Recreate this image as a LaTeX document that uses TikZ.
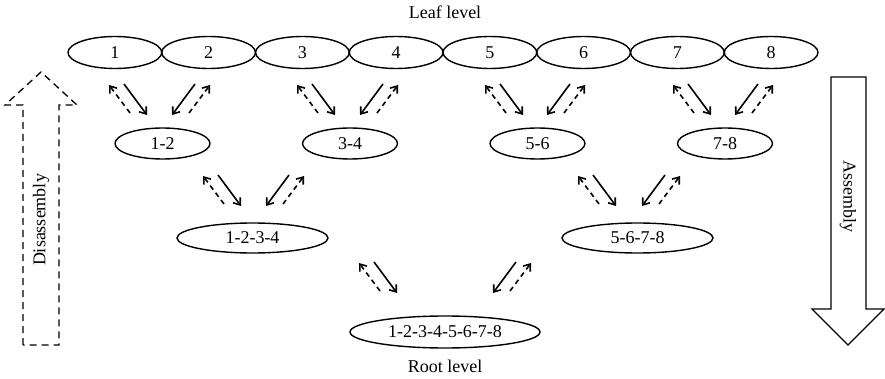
\documentclass[tikz,border=0pt]{standalone}
\usepackage{fontspec}
\setmainfont{Liberation Serif}
\usetikzlibrary{shapes.geometric,arrows.meta}

\begin{document}
\begin{tikzpicture}[x=1pt, y=-1pt, font=\fontsize{18}{21}\selectfont,
    part/.style={draw, ellipse, line width=1.4pt, inner sep=0pt, minimum height=31pt},
    tip/.style={-{Straight Barb[length=6pt, width=9pt]}, line width=1.6pt},
    back/.style={tip, dash pattern=on 5pt off 4pt},
    swap/.pic={
      \draw[tip] (0,0) -- (23,31);
      \draw[back] (6,29) -- (-15,1);
    }]
  \useasboundingbox (0,0) rectangle (885,379);

  \node (leaflabel) at (445,12) {Leaf level};
  \foreach \i in {1,...,8}
    \node[part, minimum width=93.75pt, minimum height=32pt] (l\i) at ({68+93.75*(\i-0.5)},52.5) {\i};

  \node[part, minimum width=95pt] (c12) at (162.5,143.5) {1-2};
  \node[part, minimum width=95pt] (c34) at (350,143.5) {3-4};
  \node[part, minimum width=95pt] (c56) at (537.5,143.5) {5-6};
  \node[part, minimum width=95pt] (c78) at (725,143.5) {7-8};
  \node[part, minimum width=151pt, minimum height=30pt] (c1234) at (252.5,238) {1-2-3-4};
  \node[part, minimum width=151pt, minimum height=30pt] (c5678) at (637.5,238) {5-6-7-8};
  \node[part, minimum width=190pt, minimum height=32pt] (root) at (445,332) {1-2-3-4-5-6-7-8};
  \node (rootlabel) at (445,366) {Root level};

  \foreach \p in {(124,84),(312,84),(500,84),(688,84),(218,175),(593,175),(374,262)}
    \pic at \p {swap};
  \foreach \p in {(195,84),(383,84),(570,84),(758,84),(289,175),(665,175),(516,262)}
    \pic[xscale=-1] at \p {swap};

  \draw[line width=1.3pt, dash pattern=on 7pt off 5pt]
    (23,345) -- (23,105) -- (5,105) -- (41,72) -- (77,105) -- (59,105) -- (59,345) -- cycle;
  \node[rotate=90] (dis) at (41,220) {Disassembly};
  \draw[line width=1.3pt]
    (831,77) -- (831,309) -- (812,309) -- (848,345) -- (884,309) -- (866,309) -- (866,77) -- cycle;
  \node[rotate=-90] (as) at (848,197) {Assembly};
\end{tikzpicture}
\end{document}
